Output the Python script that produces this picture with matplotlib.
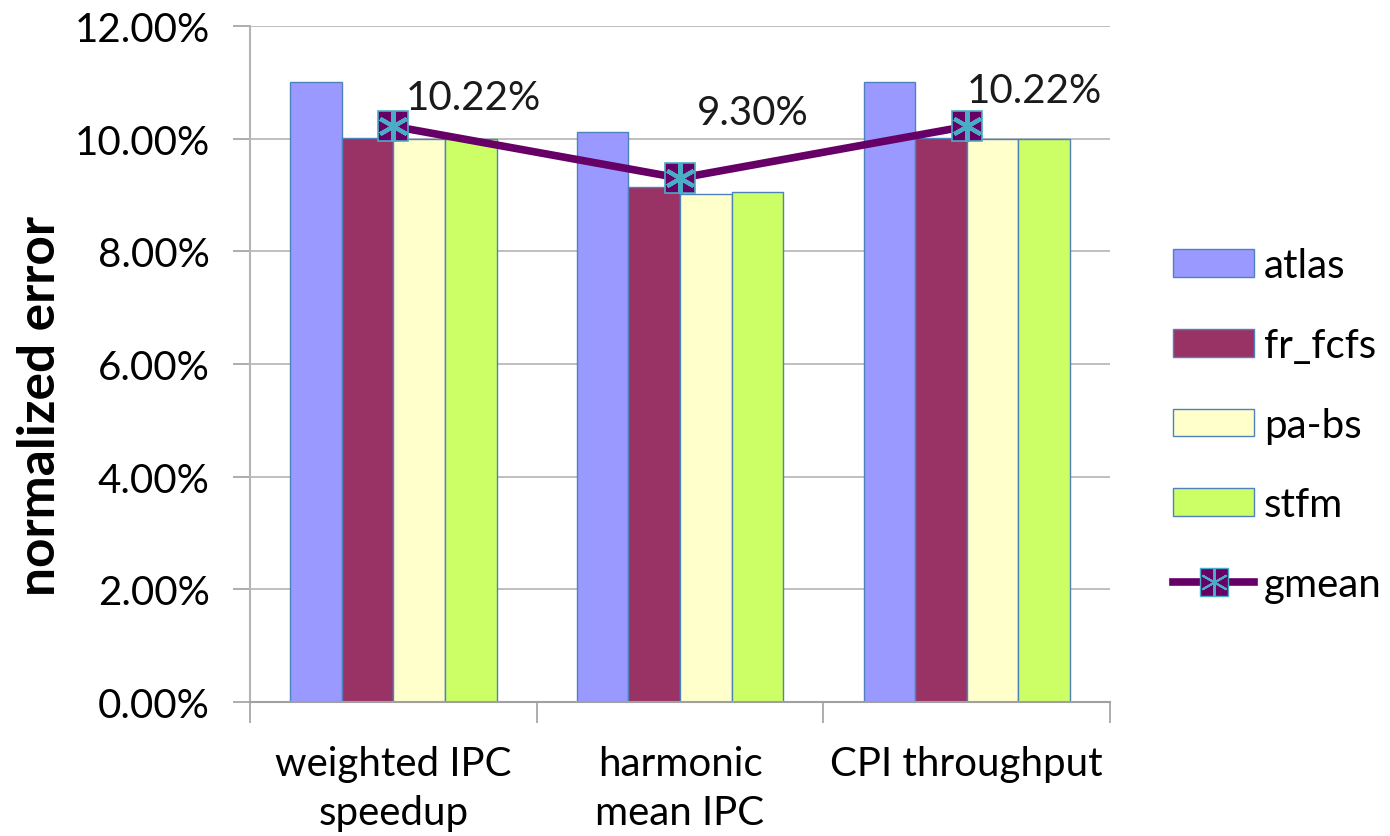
import numpy as np
import matplotlib.pyplot as plt
from matplotlib.lines import Line2D
from matplotlib.patches import Patch
from matplotlib.legend_handler import HandlerTuple
from matplotlib.ticker import FuncFormatter

plt.rcParams['font.family'] = ['Lato', 'DejaVu Sans']

categories = ['weighted IPC\nspeedup', 'harmonic\nmean IPC', 'CPI throughput']
series = ['atlas', 'fr_fcfs', 'pa-bs', 'stfm']
atlas = [11.00, 10.12, 11.00]
fr_fcfs = [10.01, 9.14, 10.01]
pa_bs = [10.00, 9.02, 10.00]
stfm = [10.00, 9.05, 10.00]
gmean = [10.22, 9.30, 10.22]
gmean_labels = ['10.22%', '9.30%', '10.22%']

colors = ['#9999FF', '#993366', '#FFFFCC', '#CCFF66']
label_offsets = [(9, 21), (12, 47), (0, 26)]  # points, label vs marker
FS = 29

fig = plt.figure(figsize=(13.9, 8.37), dpi=100)
ax = fig.add_axes([0.1799, 0.160, 0.6187, 0.8077])

x = np.arange(len(categories))
width = 0.18
values = [atlas, fr_fcfs, pa_bs, stfm]
handles = []
for i, (name, vals) in enumerate(zip(series, values)):
    ax.bar(x + (i - 1.5) * width, vals, width, color=colors[i],
           edgecolor='#4F81BD', linewidth=1.0, zorder=2)
    handles.append(Patch(facecolor=colors[i], edgecolor='#4F81BD', linewidth=1.0))

ax.plot(x, gmean, color='#660066', linewidth=5.5, marker='s', markersize=22,
        markerfacecolor='#660066', markeredgecolor='#4BACC6', markeredgewidth=1.2, zorder=4)
ax.plot(x, gmean, linestyle='none', marker=(6, 2, 0), markersize=22,
        markeredgecolor='#4BACC6', markeredgewidth=3, zorder=5)

for xi, v, lab, off in zip(x, gmean, gmean_labels, label_offsets):
    ax.annotate(lab, (xi, v), xytext=off, textcoords='offset points',
                ha='left', va='center', fontsize=FS, color='#1a1a1a', zorder=6)

ax.set_ylim(0, 12)
ax.set_xlim(-0.5, 2.5)
ax.set_yticks(np.arange(0, 12.1, 2))
ax.yaxis.set_major_formatter(FuncFormatter(lambda v, p: f'{v:.2f}%'))
ax.set_xticks(x)
ax.set_xticklabels(categories, fontsize=FS, linespacing=1.4)
ax.set_xticks([-0.5, 0.5, 1.5, 2.5], minor=True)
ax.tick_params(axis='x', which='major', length=0, pad=31)
ax.tick_params(axis='x', which='minor', length=15, color='#a0a0a0', width=1.2)
ax.tick_params(axis='y', labelsize=FS, length=12, color='#a0a0a0', width=1.2, pad=17)
ax.grid(axis='y', color='#b4b4b4', linewidth=1.2, zorder=0)
ax.set_axisbelow(True)
for s in ['top', 'right']:
    ax.spines[s].set_visible(False)
ax.spines['left'].set_color('#b4b4b4')
ax.spines['left'].set_linewidth(1.5)
ax.spines['bottom'].set_color('#a0a0a0')
ax.spines['bottom'].set_linewidth(1.5)
ax.set_ylabel('normalized error', fontsize=37, fontweight='bold', va='center')
ax.yaxis.set_label_coords(-0.244, 0.44)

gm_line = Line2D([], [], color='#660066', linewidth=5.5)
gm_sq = Line2D([], [], linestyle='none', marker='s', markersize=20,
               markerfacecolor='#660066', markeredgecolor='#4BACC6', markeredgewidth=1)
gm_ast = Line2D([], [], linestyle='none', marker=(6, 2, 0), markersize=20,
                markeredgecolor='#4BACC6', markeredgewidth=1.5)
handles.append((gm_line, gm_sq, gm_ast))
fig.legend(handles, series + ['gmean'], loc='center left',
           bbox_to_anchor=(0.818, 0.491), frameon=False, fontsize=FS,
           handlelength=2.0, handleheight=0.68, labelspacing=1.06, handletextpad=0.25,
           handler_map={tuple: HandlerTuple(ndivide=1)})

fig.savefig('out.png', dpi=100)
